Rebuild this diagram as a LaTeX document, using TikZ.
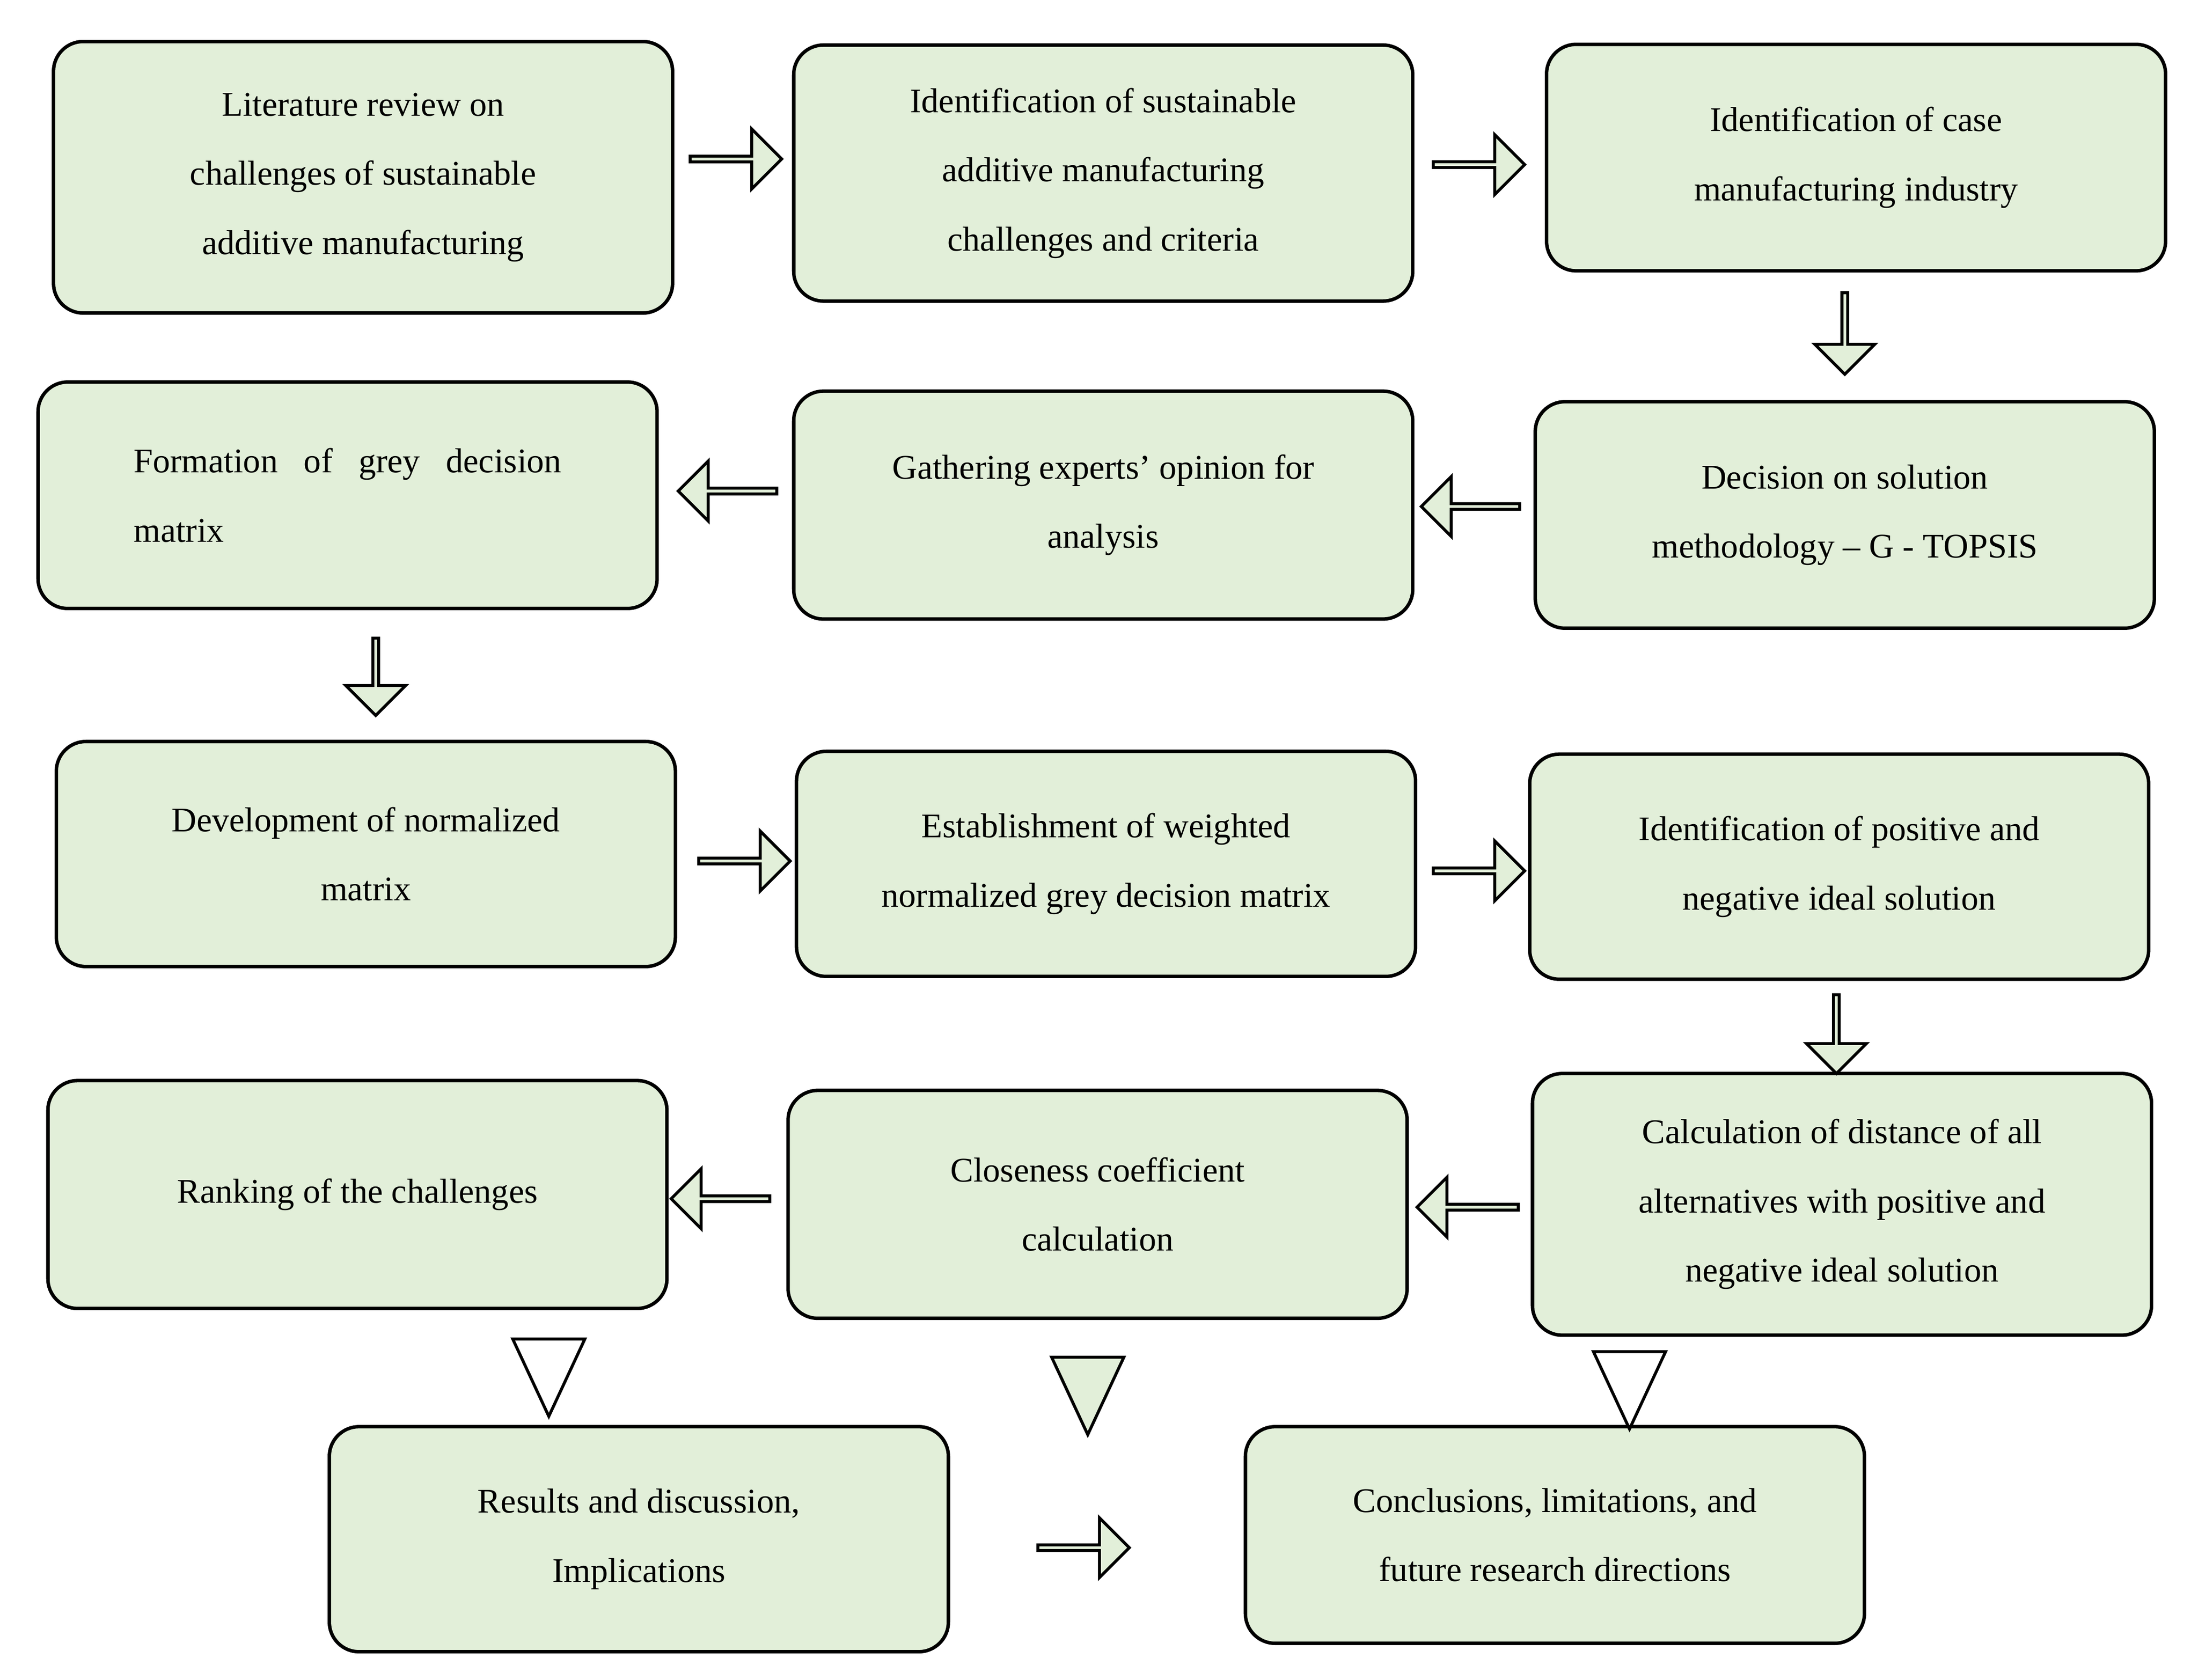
\documentclass[tikz,border=0pt]{standalone}
\usepackage{fontspec}
\setmainfont{Liberation Serif}
\usetikzlibrary{shapes.arrows,shapes.geometric}
\definecolor{boxgreen}{HTML}{E2EFD9}
\tikzset{%
	stage/.style={draw,line width=1.4pt,rounded corners=12pt,fill=boxgreen,minimum width=8.8cm,minimum height=3.2cm,align=center,font=\fontsize{14}{28}\selectfont},
	blockarrow/.style={single arrow,draw,line width=1.2pt,fill=boxgreen,minimum height=1.3cm,minimum width=0.85cm,single arrow head extend=0.2cm,inner sep=0pt},
	tip/.style={isosceles triangle,draw,line width=1.2pt,minimum height=1.1cm,minimum width=1.0cm,isosceles triangle apex angle=50,inner sep=0pt,shape border rotate=-90},
}
\begin{document}
\begin{tikzpicture}[x=0.02cm,y=-0.02cm]
	\useasboundingbox (0,0) rectangle (1562,1194);

	%ROW 1
	\node[stage,minimum height=3.86cm] (lit) at (258,126) {Literature review on\\challenges of sustainable\\additive manufacturing};
	\node[stage,minimum height=3.64cm] (ident) at (784,123) {Identification of sustainable\\additive manufacturing\\challenges and criteria};
	\node[stage,minimum height=3.22cm] (case) at (1319,112) {Identification of case\\manufacturing industry};

	%ROW 2
	\node[stage,minimum height=3.22cm,align=left] (grey) at (247,352) {Formation\ \ \ of\ \ \ grey\ \ \ decision\\matrix\hspace{4.3cm}};
	\node[stage,minimum height=3.24cm] (expert) at (784,359) {Gathering experts’ opinion for\\analysis};
	\node[stage,minimum height=3.22cm] (method) at (1311,366) {Decision on solution\\methodology -- G - TOPSIS};

	%ROW 3
	\node[stage,minimum height=3.2cm] (norm) at (260,607) {Development of normalized\\matrix};
	\node[stage,minimum height=3.2cm] (weight) at (786,614) {Establishment of weighted\\normalized grey decision matrix};
	\node[stage,minimum height=3.2cm] (ideal) at (1307,616) {Identification of positive and\\negative ideal solution};

	%ROW 4
	\node[stage,minimum height=3.24cm] (rank) at (254,849) {Ranking of the challenges};
	\node[stage,minimum height=3.24cm] (close) at (780,856) {Closeness coefficient\\calculation};
	\node[stage,minimum height=3.72cm] (dist) at (1309,856) {Calculation of distance of all\\alternatives with positive and\\negative ideal solution};

	%ROW 5
	\node[stage,minimum height=3.2cm] (res) at (454,1094) {Results and discussion,\\Implications};
	\node[stage,minimum height=3.08cm] (concl) at (1105,1091) {Conclusions, limitations, and\\future research directions};

	%PUŠČICE
	\node[blockarrow] (a1) at (522,113) {};
	\node[blockarrow] (a2) at (1050,117) {};
	\node[blockarrow,rotate=-90,minimum height=1.16cm] (a3) at (1311,236) {};
	\node[blockarrow,rotate=180,minimum height=1.4cm] (a4) at (518,349) {};
	\node[blockarrow,rotate=180,minimum height=1.4cm] (a5) at (1046,360) {};
	\node[blockarrow,rotate=-90,minimum height=1.1cm] (a6) at (267,480) {};
	\node[blockarrow] (a7) at (528,612) {};
	\node[blockarrow] (a8) at (1050,619) {};
	\node[blockarrow,rotate=-90,minimum height=1.12cm] (a9) at (1305,734) {};
	\node[blockarrow,rotate=180,minimum height=1.4cm] (a10) at (513,852) {};
	\node[blockarrow,rotate=180,minimum height=1.44cm] (a11) at (1044,858) {};
	\node[blockarrow] (a12) at (769,1100) {};

	%TRIKOTNIKI
	\node[tip,fill=white] (t1) at (390,968) {};
	\node[tip,fill=boxgreen] (t2) at (773,981) {};
	\node[tip,fill=white] (t3) at (1158,977) {};
\end{tikzpicture}
\end{document}
